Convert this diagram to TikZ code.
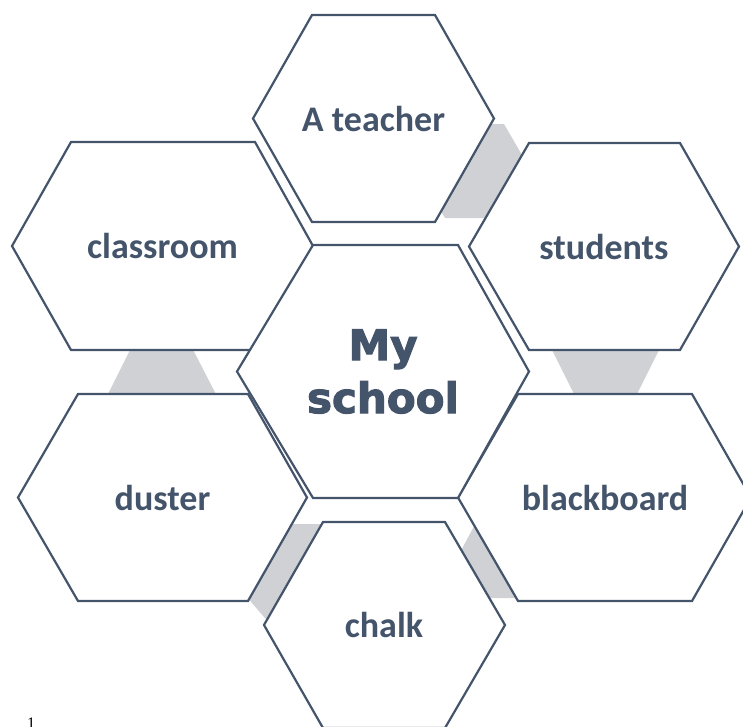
\documentclass[tikz,border=0pt]{standalone}
\usepackage{fontspec}
\setmainfont{Carlito}
\newfontfamily\headfont[BoldFeatures={FakeBold=2.5}]{DejaVu Sans}
\newfontfamily\pagefont{Liberation Serif}
\definecolor{hexblue}{RGB}{68,84,106}
\definecolor{hexgray}{RGB}{208,209,213}

\begin{document}
\begin{tikzpicture}[x=1pt,y=-1pt]
\tikzstyle{hexline}=[draw=hexblue,line width=2.2pt,fill=white,line join=miter]
\tikzstyle{gapfill}=[fill=hexgray]
\tikzstyle{every node}+=[inner sep=0pt,text=hexblue,font=\fontsize{36}{40}\selectfont\bfseries]
\useasboundingbox (0,0) rectangle (743,726);
% grey pieces in the gaps
\fill [gapfill] (435,201) -- (470,124) -- (504,124) -- (540,186) -- (510,218) -- (445,218) -- cycle;
\fill [gapfill] (135,340) -- (188,340) -- (221,404) -- (103,404) -- cycle;
\fill [gapfill] (547,340) -- (664,340) -- (632,404) -- (579,404) -- cycle;
\fill [gapfill] (285,524) -- (340,524) -- (270,624) -- (246,596) -- cycle;
\fill [gapfill] (456,560) -- (480,515) -- (530,598) -- (470,598) -- cycle;
% outer hexagons
\draw [hexline] (253,118.5) -- (312,15) -- (435,15) -- (494,118.5) -- (435,222) -- (312,222) -- cycle;
\draw (373.5,118.5) node (teacher) {A teacher};
\draw [hexline] (12,246) -- (71,142) -- (255,142) -- (313,246) -- (255,350) -- (71,350) -- cycle;
\draw (162.5,246) node (classroom) {classroom};
\draw [hexline] (469,246.5) -- (529,143) -- (680,143) -- (739,246.5) -- (680,350) -- (529,350) -- cycle;
\draw (604,246.5) node (students) {students};
\draw [hexline] (18,497.5) -- (78,394) -- (248,394) -- (307,497.5) -- (248,601) -- (78,601) -- cycle;
\draw (162.5,497.5) node (duster) {duster};
\draw [hexline] (458,497.5) -- (518,394) -- (692,394) -- (751,497.5) -- (692,601) -- (518,601) -- cycle;
\draw (605,497.5) node (blackboard) {blackboard};
\draw [hexline] (264,625) -- (323,522) -- (445,522) -- (505,625) -- (445,728) -- (323,728) -- cycle;
\draw (384,625) node (chalk) {chalk};
% middle hexagon
\draw [hexline] (237,371.5) -- (313,245) -- (458,245) -- (529,371.5) -- (458,498) -- (313,498) -- cycle;
\draw (383,371.5) node (school) [align=center,font=\headfont\fontsize{42}{53}\selectfont\bfseries] {My\\school};
\draw (31,718) node (pagenum) [anchor=north,text=black,font=\pagefont\fontsize{16}{16}\selectfont] {1};
\end{tikzpicture}
\end{document}
